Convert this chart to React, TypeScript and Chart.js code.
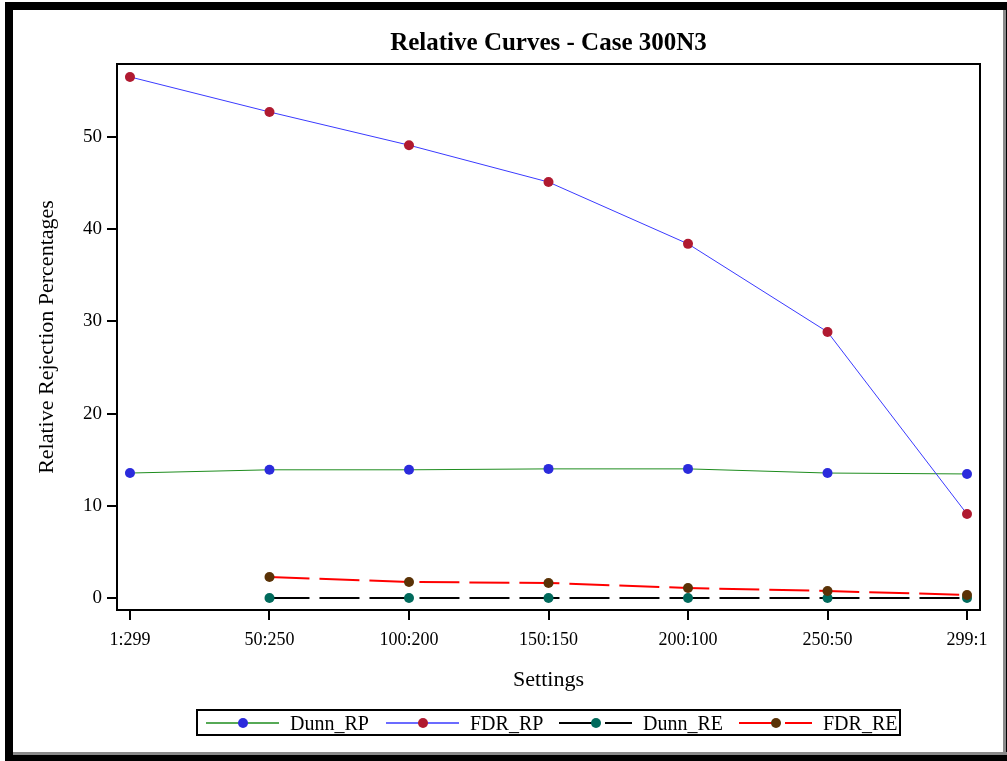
import React, { useEffect, useRef } from "react";
import { Chart, registerables } from "chart.js";

Chart.register(...registerables);

const categories = ["1:299", "50:250", "100:200", "150:150", "200:100", "250:50", "299:1"];
const dunnRP = [13.55, 13.9, 13.9, 14.0, 14.0, 13.55, 13.45];
const fdrRP = [56.5, 52.7, 49.1, 45.1, 38.4, 28.85, 9.1];
const dunnRE: (number | null)[] = [null, 0, 0, 0, 0, 0, 0];
const fdrRE: (number | null)[] = [null, 2.28, 1.74, 1.63, 1.08, 0.76, 0.33];
const yTicks = [0, 10, 20, 30, 40, 50];

const FONT = "'Liberation Serif', 'Times New Roman', serif";

type Series = {
  label: string;
  values: (number | null)[];
  line: string;
  marker: string;
  dash: number[];
  width: number;
  order: number;
};

const series: Series[] = [
  { label: "Dunn_RP", values: dunnRP, line: "#1e8c1e", marker: "#2b2bdc", dash: [], width: 1, order: 3 },
  { label: "FDR_RP", values: fdrRP, line: "#3a3aff", marker: "#b01a30", dash: [], width: 1, order: 2 },
  { label: "Dunn_RE", values: dunnRE, line: "#000000", marker: "#006a5c", dash: [40, 10], width: 2, order: 1 },
  { label: "FDR_RE", values: fdrRE, line: "#ff0000", marker: "#5a3206", dash: [40, 10], width: 2, order: 0 },
];

// legend item left offsets inside the legend box (layout only)
const legendSlots = [10, 190, 363, 543];

const framePlugin = {
  id: "frame",
  afterDatasetsDraw(chart: any) {
    const { ctx, chartArea } = chart;
    ctx.save();
    ctx.strokeStyle = "#000";
    ctx.lineWidth = 2;
    ctx.strokeRect(chartArea.left, chartArea.top, chartArea.right - chartArea.left, chartArea.bottom - chartArea.top);
    ctx.restore();
  },
};

function LegendItem({ s, left }: { s: Series; left: number }) {
  return (
    <div style={{ position: "absolute", left, top: 0, height: 27, display: "flex", alignItems: "center" }}>
      <svg width={73} height={20} style={{ display: "block" }}>
        <line
          x1={0}
          y1={10}
          x2={73}
          y2={10}
          stroke={s.line}
          strokeWidth={s.width === 1 ? 1.5 : 2}
          strokeDasharray={s.dash.length ? "37 9" : undefined}
        />
        <circle cx={37} cy={10} r={5} fill={s.marker} />
      </svg>
      <span style={{ marginLeft: 11, fontSize: 20, lineHeight: "20px" }}>{s.label}</span>
    </div>
  );
}

export default function App() {
  const canvasRef = useRef<HTMLCanvasElement | null>(null);

  useEffect(() => {
    const canvas = canvasRef.current;
    if (!canvas) return;
    const chart = new Chart(canvas, {
      type: "line",
      data: {
        datasets: series.map((s) => ({
          label: s.label,
          data: s.values.map((v, i) => ({ x: i, y: v })) as any,
          borderColor: s.line,
          backgroundColor: s.marker,
          borderWidth: s.width,
          borderDash: s.dash,
          pointBackgroundColor: s.marker,
          pointBorderColor: s.marker,
          pointBorderWidth: 0,
          pointRadius: 5,
          pointHoverRadius: 5,
          tension: 0,
          spanGaps: false,
          order: s.order,
        })),
      },
      options: {
        animation: false,
        responsive: false,
        devicePixelRatio: 1,
        events: [],
        layout: { padding: { left: 0, top: 64, right: 27, bottom: 68 } },
        plugins: {
          legend: { display: false },
          title: { display: false },
          tooltip: { enabled: false },
        },
        scales: {
          x: {
            type: "linear",
            min: -0.093,
            max: 6.093,
            afterBuildTicks: (scale: any) => {
              scale.ticks = categories.map((_, i) => ({ value: i }));
            },
            afterFit: (scale: any) => {
              scale.height = 83;
            },
            ticks: {
              autoSkip: false,
              maxRotation: 0,
              padding: 9,
              color: "#000",
              font: { family: FONT, size: 18 },
              callback: (v: any) => categories[v as number] ?? "",
            },
            grid: {
              drawOnChartArea: false,
              drawTicks: true,
              tickLength: 10,
              color: "#000",
              lineWidth: 2,
            },
            border: { display: false },
            title: {
              display: true,
              text: "Settings",
              color: "#000",
              font: { family: FONT, size: 22 },
              padding: { top: 0, bottom: 0 },
            },
          },
          y: {
            type: "linear",
            min: -1.3,
            max: 57.9,
            afterBuildTicks: (scale: any) => {
              scale.ticks = yTicks.map((v) => ({ value: v }));
            },
            afterFit: (scale: any) => {
              scale.width = 117;
            },
            ticks: {
              padding: 5,
              color: "#000",
              font: { family: FONT, size: 19 },
            },
            grid: {
              drawOnChartArea: false,
              drawTicks: true,
              tickLength: 10,
              color: "#000",
              lineWidth: 2,
            },
            border: { display: false },
            title: {
              display: true,
              text: "Relative Rejection Percentages",
              color: "#000",
              font: { family: FONT, size: 22 },
              padding: { top: 34, bottom: 0 },
            },
          },
        },
      },
      plugins: [framePlugin],
    });
    return () => chart.destroy();
  }, []);

  return (
    <div
      style={{
        position: "fixed",
        left: 0,
        top: 0,
        width: 1007,
        height: 761,
        background: "#fff",
        overflow: "hidden",
        fontFamily: FONT,
        color: "#000",
      }}
    >
      <canvas ref={canvasRef} width={1007} height={761} style={{ position: "absolute", left: 0, top: 0, width: 1007, height: 761 }} />
      <div
        style={{
          position: "absolute",
          left: 117,
          top: 27,
          width: 863,
          textAlign: "center",
          fontWeight: "bold",
          fontSize: 25,
          lineHeight: "30px",
        }}
      >
        Relative Curves - Case 300N3
      </div>
      <div
        style={{
          position: "absolute",
          left: 196,
          top: 709,
          width: 705,
          height: 27,
          boxSizing: "border-box",
          border: "2px solid #000",
          whiteSpace: "nowrap",
        }}
      >
        <div style={{ position: "absolute", left: -2, top: -2, width: 705, height: 27 }}>
          {series.map((s, i) => (
            <LegendItem key={s.label} s={s} left={legendSlots[i]} />
          ))}
        </div>
      </div>
      <div style={{ position: "absolute", left: 5, top: 2, width: 1002, height: 8, background: "#000" }} />
      <div style={{ position: "absolute", left: 5, top: 2, width: 8, height: 759, background: "#000" }} />
      <div style={{ position: "absolute", left: 1003, top: 10, width: 3, height: 745, background: "#8a8a8a" }} />
      <div style={{ position: "absolute", left: 1006, top: 2, width: 1, height: 759, background: "#000" }} />
      <div style={{ position: "absolute", left: 13, top: 752, width: 994, height: 3, background: "#8a8a8a" }} />
      <div style={{ position: "absolute", left: 5, top: 755, width: 1002, height: 6, background: "#000" }} />
    </div>
  );
}
